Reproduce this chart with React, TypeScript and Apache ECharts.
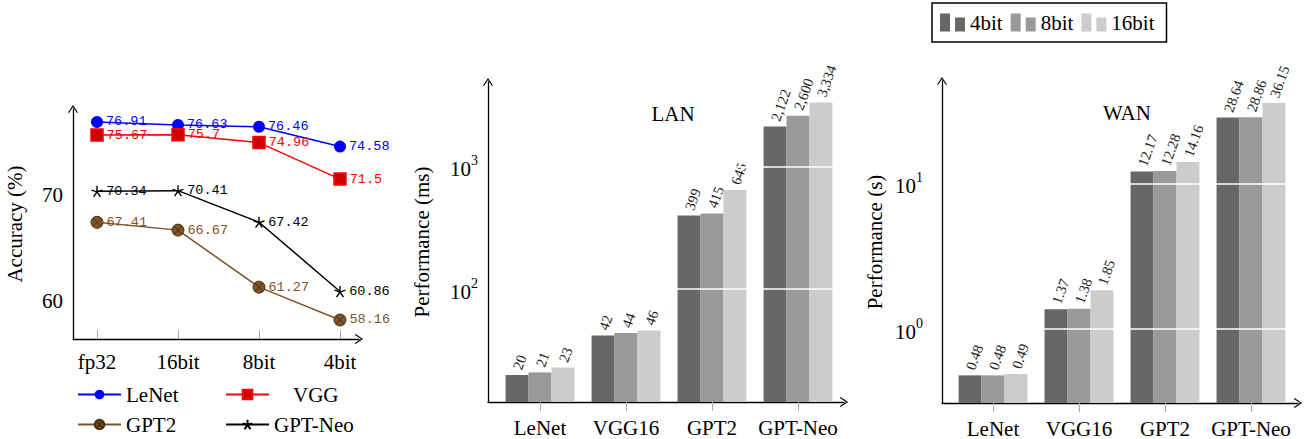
import React, { useEffect, useRef } from "react";
import * as echarts from "echarts";

// ---------- data ----------
const precisions = ["fp32", "16bit", "8bit", "4bit"];
const lenetAcc = [76.91, 76.63, 76.46, 74.58];
const vggAcc = [75.67, 75.7, 74.96, 71.5];
const gpt2Acc = [67.41, 66.67, 61.27, 58.16];
const gptNeoAcc = [70.34, 70.41, 67.42, 60.86];
const accTicks = [60, 70];

const models = ["LeNet", "VGG16", "GPT2", "GPT-Neo"];
const bitLabels = ["4bit", "8bit", "16bit"];
const lan4bit = [20, 42, 399, 2122];
const lan8bit = [21, 44, 415, 2600];
const lan16bit = [23, 46, 645, 3334];
const wan4bit = [0.48, 1.37, 12.17, 28.64];
const wan8bit = [0.48, 1.38, 12.28, 28.86];
const wan16bit = [0.49, 1.85, 14.16, 36.15];
const lanTicks = [100, 1000];
const wanTicks = [1, 10];

// ---------- styles ----------
const SERIF = "'Liberation Serif', 'Times New Roman', serif";
const MONO = "'Liberation Mono', 'Courier New', monospace";
const ARROW = "path://M0,0 L6,9 L4.8,9.8 L0,2.4 L-4.8,9.8 L-6,9 Z";
const BAR_COLORS = ["#676767", "#999999", "#cccccc"];
const BROWN = "#7f5427";

const ACC_RANGE = [56.36, 78.14];
const LAN_RANGE = [12.05, 4888];
const WAN_RANGE = [0.3097, 51.2];

const axisLineStyle = {
  show: true,
  onZero: false,
  symbol: ["none", ARROW],
  symbolSize: [10, 9],
  lineStyle: { color: "#000", width: 1.3 },
};

const powLabel = (v: number) => `{b|10}{s|${Math.round(Math.log10(v))}}`;
const powRich = {
  b: { fontSize: 21, fontFamily: SERIF, color: "#000", lineHeight: 26, verticalAlign: "bottom" },
  s: { fontSize: 14, fontFamily: SERIF, color: "#000", lineHeight: 12, verticalAlign: "top" },
};

function lineSeries(name: string, values: number[], color: string, symbol: string, size: number, itemStyle: any) {
  return {
    type: "line",
    name,
    xAxisIndex: 0,
    yAxisIndex: 0,
    data: values.map((v, i) => [i, v]),
    symbol,
    symbolSize: size,
    showAllSymbol: true,
    lineStyle: { color, width: 1.5 },
    itemStyle: { color, ...itemStyle },
    label: {
      show: true,
      position: "right",
      distance: 3,
      fontFamily: MONO,
      fontSize: 13.5,
      color,
      formatter: (p: any) => String(p.value[1]),
    },
    z: 3,
  };
}

function barSeries(name: string, values: number[], idx: number, axis: number, yMin: number, fmt: (v: number) => string) {
  const color = BAR_COLORS[idx];
  return {
    type: "custom",
    name,
    xAxisIndex: axis,
    yAxisIndex: axis,
    data: values.map((v, i) => [i, v]),
    encode: { x: 0, y: 1 },
    itemStyle: { color },
    clip: false,
    z: 2,
    renderItem: (params: any, api: any) => {
      const xi = api.value(0);
      const v = api.value(1);
      const top = api.coord([xi, v]);
      const band = api.coord([xi + 1, v])[0] - top[0];
      const bw = band * 0.267;
      const base = api.coord([xi, yMin]);
      const x0 = top[0] + (idx - 1.5) * bw;
      return {
        type: "group",
        children: [
          {
            type: "rect",
            shape: { x: x0, y: top[1], width: bw, height: base[1] - top[1] },
            style: { fill: color },
          },
          {
            type: "text",
            x: x0 + bw / 2,
            y: top[1] - 6,
            rotation: (70 * Math.PI) / 180,
            style: {
              text: fmt(v),
              fontSize: 14.5,
              fontFamily: SERIF,
              fill: "#222",
              align: "left",
              verticalAlign: "middle",
            },
          },
        ],
      };
    },
  };
}

function barXAxis(grid: number, min: number, max: number) {
  return {
    gridIndex: grid,
    type: "value",
    min,
    max,
    axisLine: axisLineStyle,
    axisTick: { show: true, inside: false, length: 9, customValues: [0, 1, 2, 3], lineStyle: { color: "#aaa", width: 1 } },
    axisLabel: {
      customValues: [0, 1, 2, 3],
      formatter: (v: number) => models[Math.round(v)],
      fontFamily: SERIF,
      fontSize: 21,
      color: "#000",
      margin: 15,
    },
    splitLine: { show: false },
  };
}

function barYAxis(grid: number, range: number[], ticks: number[], name: string, nameGap: number, margin: number) {
  return {
    gridIndex: grid,
    type: "log",
    logBase: 10,
    min: range[0],
    max: range[1],
    z: 5,
    name,
    nameLocation: "middle",
    nameRotate: 90,
    nameGap,
    nameMoveOverlap: false,
    nameTextStyle: { fontFamily: SERIF, fontSize: 21, color: "#000" },
    axisLine: axisLineStyle,
    axisTick: { show: false, customValues: ticks },
    axisLabel: { customValues: ticks, formatter: powLabel, rich: powRich, margin },
    splitLine: { show: true, lineStyle: { color: "#fff", width: 1.5 } },
  };
}

function lineLegend(name: string, left: number, top: number, padLeft: number) {
  return {
    data: [name],
    left,
    top,
    orient: "horizontal",
    padding: 0,
    itemWidth: 43,
    itemHeight: 12,
    selectedMode: false,
    textStyle: { fontFamily: SERIF, fontSize: 21, color: "#000", padding: [0, 0, 0, padLeft] },
  };
}

const option: any = {
  animation: false,
  backgroundColor: "#fff",
  title: [
    { text: "LAN", left: 668, top: 98, textAlign: "center", textStyle: { fontFamily: SERIF, fontSize: 21, fontWeight: "normal", color: "#000" } },
    { text: "WAN", left: 1122, top: 97, textAlign: "center", textStyle: { fontFamily: SERIF, fontSize: 21, fontWeight: "normal", color: "#000" } },
  ],
  grid: [
    { left: 73, top: 109, width: 286, height: 230, outerBoundsMode: "none" },
    { left: 488, top: 82, width: 356, height: 320, outerBoundsMode: "none" },
    { left: 942, top: 81, width: 356, height: 322, outerBoundsMode: "none" },
  ],
  legend: [
    lineLegend("LeNet", 77, 384, 0),
    lineLegend("VGG", 225, 384, 19),
    lineLegend("GPT2", 77, 414, 0),
    lineLegend("GPT-Neo", 225, 414, 0),
    {
      data: bitLabels,
      left: 932,
      top: 3,
      padding: [9, 12, 9, 8],
      itemGap: 8,
      itemWidth: 25,
      itemHeight: 18,
      icon: "path://M0,0 h10 v18 h-10 Z M15,4 h10 v14 h-10 Z",
      borderColor: "#000",
      borderWidth: 1.5,
      borderRadius: 0,
      selectedMode: false,
      textStyle: { fontFamily: SERIF, fontSize: 21, color: "#000" },
    },
  ],
  xAxis: [
    {
      gridIndex: 0,
      type: "value",
      min: -0.2963,
      max: 3.2346,
      axisLine: axisLineStyle,
      axisTick: { show: true, inside: true, length: 9, customValues: [0, 1, 2, 3], lineStyle: { color: "#aaa", width: 1 } },
      axisLabel: {
        customValues: [0, 1, 2, 3],
        formatter: (v: number) => precisions[Math.round(v)],
        fontFamily: SERIF,
        fontSize: 21,
        color: "#000",
        margin: 12,
      },
      splitLine: { show: false },
    },
    barXAxis(1, -0.6047, 3.535),
    barXAxis(2, -0.593, 3.5465),
  ],
  yAxis: [
    {
      gridIndex: 0,
      type: "value",
      min: ACC_RANGE[0],
      max: ACC_RANGE[1],
      name: "Accuracy (%)",
      nameLocation: "middle",
      nameRotate: 90,
      nameGap: 48,
      nameMoveOverlap: false,
      nameTextStyle: { fontFamily: SERIF, fontSize: 21, color: "#000" },
      axisLine: axisLineStyle,
      axisTick: { show: false, customValues: accTicks },
      axisLabel: { customValues: accTicks, fontFamily: SERIF, fontSize: 21, color: "#000", margin: 10 },
      splitLine: { show: false },
    },
    barYAxis(1, LAN_RANGE, lanTicks, "Performance (ms)", 56, 10),
    barYAxis(2, WAN_RANGE, wanTicks, "Performance (s)", 57, 19),
  ],
  series: [
    lineSeries("LeNet", lenetAcc, "#0000ff", "circle", 12, {}),
    lineSeries("VGG", vggAcc, "#ff0000", "rect", 12, { color: "#d00000", borderColor: "#ff0000", borderWidth: 1.5 }),
    lineSeries(
      "GPT2",
      gpt2Acc,
      BROWN,
      "path://M10,0 A10,10 0 1,1 -10,0 A10,10 0 1,1 10,0 Z M-7,-7 L7,7 M-7,7 L7,-7",
      12,
      { color: BROWN, borderColor: "#4a2e10", borderWidth: 1 }
    ),
    lineSeries(
      "GPT-Neo",
      gptNeoAcc,
      "#000000",
      "path://M0,-10 L0,0 M9.5,-3.1 L0,0 M5.9,8.1 L0,0 M-5.9,8.1 L0,0 M-9.5,-3.1 L0,0",
      11,
      { color: "#000", borderColor: "#000", borderWidth: 1.4 }
    ),
    barSeries("4bit", lan4bit, 0, 1, LAN_RANGE[0], (v) => v.toLocaleString("en-US")),
    barSeries("8bit", lan8bit, 1, 1, LAN_RANGE[0], (v) => v.toLocaleString("en-US")),
    barSeries("16bit", lan16bit, 2, 1, LAN_RANGE[0], (v) => v.toLocaleString("en-US")),
    barSeries("4bit", wan4bit, 0, 2, WAN_RANGE[0], (v) => v.toFixed(2)),
    barSeries("8bit", wan8bit, 1, 2, WAN_RANGE[0], (v) => v.toFixed(2)),
    barSeries("16bit", wan16bit, 2, 2, WAN_RANGE[0], (v) => v.toFixed(2)),
  ],
};

export default function App() {
  const ref = useRef<HTMLDivElement>(null);
  useEffect(() => {
    if (!ref.current) return;
    const chart = echarts.init(ref.current, null, { renderer: "svg" });
    chart.setOption(option);
    return () => chart.dispose();
  }, []);
  return (
    <div
      ref={ref}
      style={{ position: "absolute", left: 0, top: 0, width: 1308, height: 439, background: "#fff" }}
    />
  );
}
